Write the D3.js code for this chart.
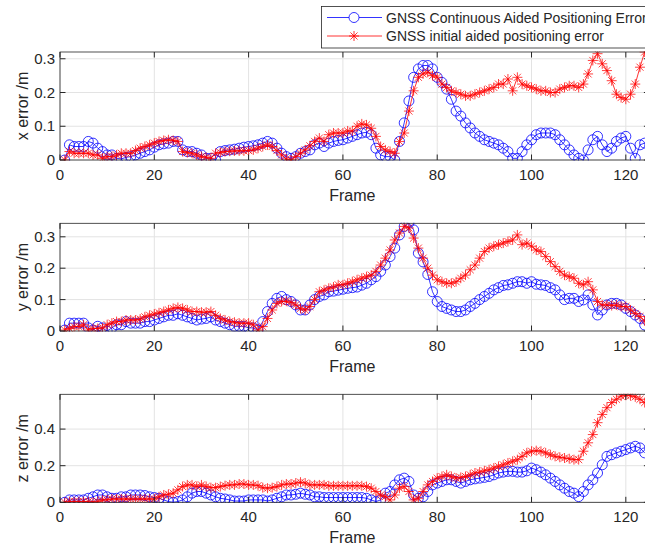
<!DOCTYPE html>
<html>
<head>
  <title>GNSS aided positioning error</title>
  <script src="https://d3js.org/d3.v7.min.js"></script>
  <style>
    body { margin: 0; background: #fff; }
    text { font-family: "Liberation Sans", Arial, sans-serif; fill: #262626; }
  </style>
</head>
<body>
<div id="chart"></div>
<script>
// frame numbers 1..124
const frames = d3.range(1, 125);

// x error /m
const xContinuous = [0,0.045,0.04,0.04,0.04,0.055,0.05,0.035,0.025,0.015,0.015,0.005,0.003,0.008,0.01,0.015,0.02,0.025,0.03,0.038,
  0.045,0.048,0.05,0.055,0.055,0.03,0.025,0.025,0.02,0.015,0.005,0.005,0,0.025,0.028,0.03,0.032,0.035,0.038,0.04,
  0.042,0.045,0.05,0.055,0.05,0.035,0.02,0.01,0.005,0.01,0.02,0.025,0.03,0.045,0.05,0.04,0.05,0.055,0.058,0.06,
  0.065,0.07,0.075,0.08,0.082,0.075,0.035,0.015,0.01,0.01,0,0.055,0.11,0.175,0.245,0.27,0.28,0.28,0.27,0.245,
  0.23,0.21,0.18,0.145,0.13,0.11,0.095,0.08,0.07,0.06,0.055,0.05,0.045,0.035,0.025,0.005,0.005,0.025,0.045,0.06,
  0.075,0.08,0.08,0.08,0.075,0.06,0.045,0.03,0.015,0.005,0,0.03,0.06,0.07,0.045,0.025,0.035,0.055,0.065,0.07,
  0.035,0.005,0.045,0.05];
const xInitial = [0,0.025,0.02,0.02,0.02,0.02,0.015,0.015,0.005,0.01,0.01,0.015,0.02,0.02,0.02,0.028,0.035,0.04,0.045,0.05,
  0.055,0.058,0.06,0.058,0.055,0.025,0.022,0.02,0.015,0.01,0.008,0.005,0.02,0.022,0.025,0.026,0.027,0.027,0.027,0.028,
  0.03,0.035,0.04,0.045,0.04,0.028,0.015,0.003,0,0.01,0.02,0.03,0.042,0.055,0.065,0.055,0.075,0.08,0.08,0.08,
  0.086,0.086,0.1,0.107,0.104,0.094,0.07,0.04,0.03,0.025,0.02,0.055,0.08,0.145,0.205,0.245,0.255,0.26,0.25,0.245,
  0.225,0.215,0.205,0.2,0.195,0.19,0.19,0.195,0.2,0.205,0.21,0.215,0.225,0.225,0.24,0.205,0.245,0.225,0.22,0.215,
  0.21,0.205,0.205,0.2,0.2,0.21,0.215,0.22,0.22,0.215,0.225,0.255,0.295,0.315,0.285,0.265,0.235,0.195,0.185,0.18,
  0.195,0.225,0.275,0.32];

// y error /m
const yContinuous = [0.003,0.025,0.025,0.025,0.025,0.01,0.003,0.015,0.01,0,0.01,0.02,0.02,0.03,0.025,0.025,0.025,0.03,0.03,0.035,
  0.04,0.045,0.05,0.05,0.055,0.05,0.045,0.04,0.035,0.038,0.04,0.045,0.035,0.03,0.025,0.02,0.015,0.015,0.015,0.01,
  0.01,0.003,0.03,0.062,0.088,0.104,0.11,0.1,0.094,0.083,0.067,0.067,0.083,0.1,0.11,0.115,0.125,0.127,0.13,0.133,
  0.136,0.138,0.14,0.146,0.152,0.163,0.173,0.19,0.21,0.237,0.264,0.306,0.333,0.344,0.322,0.248,0.22,0.18,0.125,0.094,
  0.078,0.072,0.067,0.062,0.062,0.067,0.078,0.088,0.1,0.11,0.12,0.131,0.138,0.145,0.147,0.152,0.157,0.157,0.152,0.157,
  0.149,0.147,0.145,0.138,0.131,0.115,0.1,0.104,0.104,0.094,0.099,0.115,0.083,0.051,0.067,0.083,0.088,0.088,0.083,0.072,
  0.062,0.051,0.04,0.019];
const yInitial = [0.003,0.008,0.014,0.014,0.02,0.003,0.008,0.008,0.01,0.02,0.025,0.03,0.03,0.035,0.035,0.035,0.038,0.045,0.05,0.054,
  0.058,0.062,0.067,0.072,0.075,0.072,0.067,0.062,0.062,0.06,0.06,0.062,0.05,0.04,0.035,0.03,0.028,0.025,0.025,0.025,
  0.02,0.003,0.014,0.04,0.067,0.088,0.094,0.095,0.091,0.083,0.072,0.067,0.078,0.1,0.125,0.13,0.136,0.14,0.147,0.147,
  0.152,0.157,0.163,0.168,0.173,0.178,0.19,0.21,0.232,0.258,0.29,0.312,0.333,0.328,0.296,0.264,0.232,0.2,0.178,0.163,
  0.157,0.152,0.152,0.157,0.168,0.178,0.195,0.21,0.232,0.253,0.264,0.27,0.275,0.28,0.285,0.29,0.306,0.275,0.28,0.27,
  0.258,0.253,0.237,0.221,0.205,0.19,0.178,0.173,0.168,0.152,0.147,0.157,0.131,0.094,0.083,0.083,0.081,0.083,0.078,0.078,
  0.067,0.056,0.046,0.032];

// z error /m
const zContinuous = [0,0.013,0.013,0.013,0.013,0.022,0.03,0.04,0.04,0.03,0.022,0.022,0.03,0.03,0.04,0.04,0.04,0.037,0.03,0.026,
  0.022,0.013,0.004,0,0.004,0.013,0.03,0.05,0.059,0.059,0.05,0.04,0.03,0.022,0.018,0.013,0.007,0.007,0.007,0.013,
  0.013,0.013,0.013,0.007,0.013,0.022,0.03,0.04,0.04,0.044,0.05,0.044,0.04,0.03,0.03,0.026,0.026,0.026,0.026,0.026,
  0.026,0.026,0.026,0.026,0.022,0.013,0.004,0.013,0.05,0.059,0.095,0.123,0.132,0.114,0.04,0.022,0.03,0.059,0.095,0.105,
  0.114,0.123,0.123,0.114,0.105,0.114,0.123,0.128,0.132,0.136,0.141,0.15,0.16,0.165,0.169,0.169,0.165,0.165,0.172,0.187,
  0.178,0.165,0.15,0.132,0.114,0.095,0.077,0.059,0.05,0.031,0.059,0.095,0.123,0.16,0.205,0.251,0.26,0.27,0.279,0.288,
  0.297,0.306,0.297,0.27];
const zInitial = [0,0.004,0.004,0.004,0.004,0.004,0,0.004,0.013,0.013,0.018,0.018,0.018,0.018,0.018,0.018,0.018,0.018,0.018,0.018,
  0.03,0.04,0.044,0.05,0.068,0.086,0.095,0.095,0.086,0.095,0.086,0.08,0.08,0.086,0.091,0.095,0.095,0.1,0.1,0.095,
  0.095,0.091,0.08,0.077,0.08,0.086,0.095,0.1,0.1,0.105,0.11,0.105,0.095,0.095,0.095,0.095,0.09,0.09,0.09,0.09,
  0.09,0.09,0.09,0.09,0.086,0.077,0.059,0.04,0.031,0.013,0.04,0.077,0.086,0.059,0.013,0.022,0.059,0.095,0.114,0.132,
  0.141,0.15,0.141,0.132,0.136,0.141,0.15,0.16,0.165,0.172,0.178,0.187,0.196,0.205,0.215,0.224,0.233,0.251,0.27,0.279,
  0.282,0.279,0.27,0.26,0.251,0.246,0.242,0.238,0.233,0.233,0.279,0.325,0.37,0.435,0.48,0.517,0.545,0.563,0.58,0.585,
  0.582,0.576,0.563,0.545];

const xTicks = [0, 20, 40, 60, 80, 100, 120];
const legendLabels = ["GNSS Continuous Aided Positioning Error", "GNSS initial aided positioning error"];

const panels = [
  { label: "x error /m", cont: xContinuous, init: xInitial, yMax: 0.32, yTicks: [0, 0.1, 0.2, 0.3], top: 52, bottom: 160 },
  { label: "y error /m", cont: yContinuous, init: yInitial, yMax: 0.343, yTicks: [0, 0.1, 0.2, 0.3], top: 223.3, bottom: 331 },
  { label: "z error /m", cont: zContinuous, init: zInitial, yMax: 0.59, yTicks: [0, 0.2, 0.4], top: 394.3, bottom: 502.3 }
];

const width = 645, height = 549;
const left = 60, right = 649.4;
const blue = "#0000ff", red = "#ff0000", axisColor = "#262626", gridColor = "#e3e3e3";
const tickLen = 5.5;
const markerR = 5;

const svg = d3.select("#chart").append("svg")
  .attr("width", width)
  .attr("height", height);

const x = d3.scaleLinear().domain([0, 125]).range([left, right]);

// asterisk marker like matlab '*'
function asterisk(s) {
  const a = s * 0.7071;
  return `M${-s},0L${s},0M0,${-s}L0,${s}M${-a},${-a}L${a},${a}M${-a},${a}L${a},${-a}`;
}

panels.forEach((p, i) => {
  const y = d3.scaleLinear().domain([0, p.yMax]).range([p.bottom, p.top]);
  const g = svg.append("g");

  // grid
  g.selectAll(".vgrid").data(xTicks).enter().append("line")
    .attr("x1", d => x(d)).attr("x2", d => x(d))
    .attr("y1", p.top).attr("y2", p.bottom)
    .attr("stroke", gridColor);
  g.selectAll(".hgrid").data(p.yTicks).enter().append("line")
    .attr("x1", left).attr("x2", right)
    .attr("y1", d => y(d)).attr("y2", d => y(d))
    .attr("stroke", gridColor);

  // data, clipped to the axes box
  const clipId = "clip" + i;
  svg.append("clipPath").attr("id", clipId).append("rect")
    .attr("x", left).attr("y", p.top - 0.5)
    .attr("width", right - left).attr("height", p.bottom - p.top + 1);
  const plot = g.append("g").attr("clip-path", `url(#${clipId})`);

  const line = d3.line().x((d, k) => x(frames[k])).y(d => y(d));

  plot.append("path").datum(p.cont)
    .attr("d", line).attr("fill", "none").attr("stroke", blue).attr("stroke-width", 0.8);
  plot.selectAll(".circ").data(p.cont).enter().append("circle")
    .attr("cx", (d, k) => x(frames[k])).attr("cy", d => y(d))
    .attr("r", markerR).attr("fill", "none").attr("stroke", blue).attr("stroke-width", 0.8);

  plot.append("path").datum(p.init)
    .attr("d", line).attr("fill", "none").attr("stroke", red).attr("stroke-width", 0.8);
  plot.selectAll(".star").data(p.init).enter().append("path")
    .attr("transform", (d, k) => `translate(${x(frames[k])},${y(d)})`)
    .attr("d", asterisk(markerR)).attr("fill", "none").attr("stroke", red).attr("stroke-width", 0.75);

  // box
  g.append("rect")
    .attr("x", left).attr("y", p.top)
    .attr("width", right - left).attr("height", p.bottom - p.top)
    .attr("fill", "none").attr("stroke", axisColor).attr("stroke-width", 0.8);

  // ticks inside on all four sides
  xTicks.forEach(t => {
    g.append("line").attr("x1", x(t)).attr("x2", x(t)).attr("y1", p.bottom).attr("y2", p.bottom - tickLen).attr("stroke", axisColor);
    g.append("line").attr("x1", x(t)).attr("x2", x(t)).attr("y1", p.top).attr("y2", p.top + tickLen).attr("stroke", axisColor);
    g.append("text").attr("x", x(t)).attr("y", p.bottom + 20)
      .attr("text-anchor", "middle").style("font-size", "15px").text(t);
  });
  p.yTicks.forEach(t => {
    g.append("line").attr("x1", left).attr("x2", left + tickLen).attr("y1", y(t)).attr("y2", y(t)).attr("stroke", axisColor);
    g.append("line").attr("x1", right).attr("x2", right - tickLen).attr("y1", y(t)).attr("y2", y(t)).attr("stroke", axisColor);
    g.append("text").attr("x", left - 5).attr("y", y(t) + 5)
      .attr("text-anchor", "end").style("font-size", "15px").text(String(t));
  });

  // labels
  g.append("text").attr("x", x(62)).attr("y", p.bottom + 41)
    .attr("text-anchor", "middle").style("font-size", "16px").text("Frame");
  g.append("text")
    .attr("transform", `translate(28,${(p.top + p.bottom) / 2}) rotate(-90)`)
    .attr("text-anchor", "middle").style("font-size", "16px").text(p.label);
});

// legend
const lg = svg.append("g");
lg.append("rect").attr("x", 321.5).attr("y", 6.5).attr("width", 340).attr("height", 41.5)
  .attr("fill", "#fff").attr("stroke", axisColor).attr("stroke-width", 0.8);
const legendItems = [
  { label: legendLabels[0], color: blue, y: 17.5, marker: "circle" },
  { label: legendLabels[1], color: red, y: 36, marker: "star" }
];
legendItems.forEach(d => {
  lg.append("line").attr("x1", 327).attr("x2", 382).attr("y1", d.y).attr("y2", d.y)
    .attr("stroke", d.color).attr("stroke-width", 0.8);
  if (d.marker === "circle") {
    lg.append("circle").attr("cx", 354).attr("cy", d.y).attr("r", markerR)
      .attr("fill", "#fff").attr("stroke", d.color).attr("stroke-width", 0.8);
  } else {
    lg.append("path").attr("transform", `translate(354,${d.y})`).attr("d", asterisk(markerR))
      .attr("fill", "none").attr("stroke", d.color).attr("stroke-width", 0.8);
  }
  lg.append("text").attr("x", 386).attr("y", d.y + 5).style("font-size", "14px").text(d.label);
});
</script>
</body>
</html>
